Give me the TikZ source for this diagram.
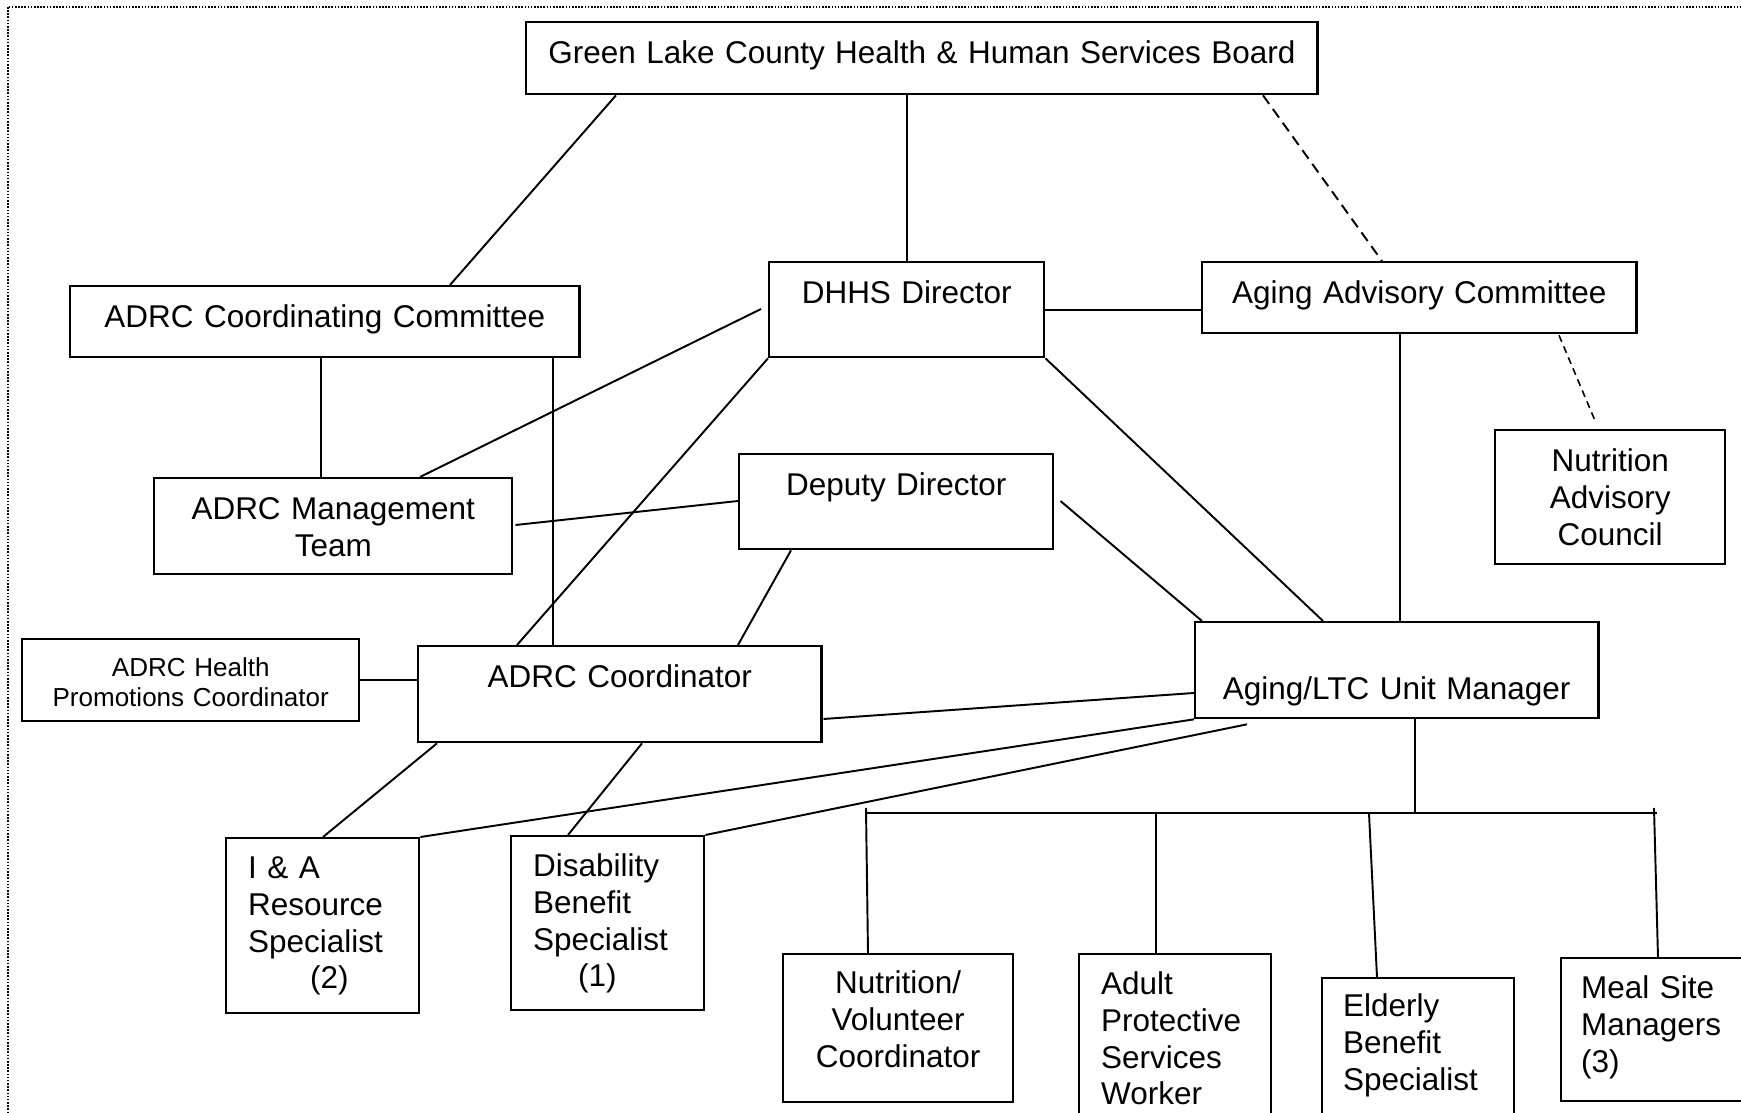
\documentclass[tikz,border=0pt]{standalone}
\usepackage{fontspec}
\setmainfont{Liberation Sans}
\usetikzlibrary{calc}

\tikzset{
  box/.style n args={3}{draw, line width=0.65pt, inner sep=0pt, anchor=north west,
    text width=#1, text height=#2, text depth=#3, align=center,
    font=\fontsize{8.95}{10.5}\selectfont},
  lbox/.style n args={3}{box={#1}{#2}{#3}, align=left, inner xsep=0.22cm},
  link/.style={line width=0.55pt},
  advice/.style={line width=0.55pt, dash pattern=on 3pt off 1.8pt},
  council/.style={line width=0.45pt, dash pattern=on 2pt off 1.4pt},
  frame/.style={line width=0.4pt, dash pattern=on 0.45pt off 0.45pt},
}

\begin{document}
\begin{tikzpicture}[x=0.01cm, y=-0.01cm]
\def\busy{813}
\useasboundingbox (0,0) rectangle (1741,1113);
\clip (0,0) rectangle (1741,1113);

\draw[frame] (8,7) rectangle (1790,1160);

\node[box={7.91cm}{0.41cm}{0.31cm}] (board) at (525,21) {Green Lake County Health \& Human Services Board};

\node[box={5.09cm}{0.41cm}{0.30cm}] (adrcCC) at (69,285) {ADRC Coordinating Committee};
\node[box={2.75cm}{0.41cm}{0.54cm}] (dhhs) at (768,261) {DHHS Director};
\node[box={4.34cm}{0.41cm}{0.30cm}] (aac) at (1201,261) {Aging Advisory Committee};
\node[box={2.30cm}{0.41cm}{0.93cm}] (nac) at (1494,429) {Nutrition\\Advisory\\Council};

\node[box={3.58cm}{0.41cm}{0.55cm}] (mgmt) at (153,477) {ADRC Management\\Team};
\node[box={3.14cm}{0.41cm}{0.54cm}] (deputy) at (738,453) {Deputy Director};

\node[box={3.37cm}{0.37cm}{0.45cm}, font=\fontsize{7.4}{8.5}\selectfont] (health) at (21,638) {ADRC Health\\Promotions Coordinator};
\node[box={4.03cm}{0.41cm}{0.55cm}] (adrcCoord) at (417,645) {ADRC Coordinator};
\node[box={4.03cm}{0.77cm}{0.19cm}] (mgr) at (1194,621) {Aging/LTC Unit Manager};

\node[lbox={1.49cm}{0.40cm}{1.35cm}] (ia) at (225,837) {I \& A\\Resource\\Specialist\\\hspace*{0.62cm}(2)};
\node[lbox={1.49cm}{0.40cm}{1.34cm}] (dis) at (510,835) {Disability\\Benefit\\Specialist\\\hspace*{0.45cm}(1)};

\node[box={2.30cm}{0.39cm}{1.09cm}] (nvc) at (782,953) {Nutrition/\\Volunteer\\Coordinator};
\node[lbox={1.48cm}{0.40cm}{1.42cm}] (aps) at (1078,953) {Adult\\Protective\\Services\\Worker};
\node[lbox={1.50cm}{0.38cm}{1.20cm}, inner xsep=0.21cm] (ebs) at (1321,977) {Elderly\\Benefit\\Specialist};
\node[lbox={1.52cm}{0.40cm}{1.03cm}, inner xsep=0.20cm] (msm) at (1560,957) {Meal Site\\Managers\\(3)};

% board and committees
\draw[link] ($(board.south west)+(91,0)$) -- ($(adrcCC.north west)+(381,0)$);
\draw[link] (dhhs.north |- board.south) -- (dhhs.north);
\draw[advice] ($(board.south west)+(738,0)$) -- ($(aac.north west)+(181,0)$);
\draw[link] (dhhs.east) -- (aac.west |- dhhs.east);
\draw[link] ($(aac.south west)+(199,0)$) -- ($(mgr.north west)+(206,0)$);
\draw[council] ($(aac.south west)+(358,1)$) -- ($(nac.north west)+(102,-6)$);

% directors
\draw[link] (dhhs.south east) -- ($(mgr.north west)+(129,0)$);
\draw[link] (dhhs.south west) -- ($(adrcCoord.north west)+(100,0)$);
\draw[link] ($(dhhs.north west)+(-7,48)$) -- ($(mgmt.north west)+(267,0)$);
\draw[link] ($(adrcCC.south west)+(252,0)$) -- ($(mgmt.north west)+(168,0)$);
\draw[link] ($(adrcCC.south west)+(484,0)$) -- ($(adrcCoord.north west)+(136,0)$);
\draw[link] ($(mgmt.north east)+(2,48)$) -- ($(deputy.north west)+(0,48)$);
\draw[link] ($(deputy.south west)+(53,0)$) -- ($(adrcCoord.north west)+(321,0)$);
\draw[link] ($(deputy.north east)+(6,48)$) -- ($(mgr.north west)+(8,0)$);

% coordinator and manager
\draw[link] (health.east) -- (adrcCoord.west |- health.east);
\draw[link] ($(adrcCoord.north east)+(1,74)$) -- ($(mgr.north west)+(0,72)$);
\draw[link] (mgr.south west) -- (ia.north east);
\draw[link] ($(mgr.south west)+(53,5)$) -- (dis.north east);
\draw[link] ($(adrcCoord.south west)+(20,0)$) -- ($(ia.north west)+(98,0)$);
\draw[link] ($(adrcCoord.south west)+(225,0)$) -- ($(dis.north west)+(58,0)$);

% aging unit
\coordinate (busL) at (867,\busy);
\coordinate (busR) at (1657,\busy);
\coordinate (tickL) at (866,808);
\coordinate (tickR) at (1654,808);
\coordinate (mgrdrop) at ($(mgr.south west)+(221,0)$);
\coordinate (apstop) at ($(aps.north west)+(78,0)$);
\draw[link] (busL) -- (busR);
\draw[link] (mgrdrop) -- (mgrdrop |- busL);
\draw[link] (tickL) -- ($(nvc.north west)+(86,0)$);
\draw[link] (apstop |- busL) -- (apstop);
\draw[link] ($(busL)+(502,0)$) -- ($(ebs.north west)+(56,0)$);
\draw[link] (tickR) -- ($(msm.north west)+(98,0)$);

\end{tikzpicture}
\end{document}
